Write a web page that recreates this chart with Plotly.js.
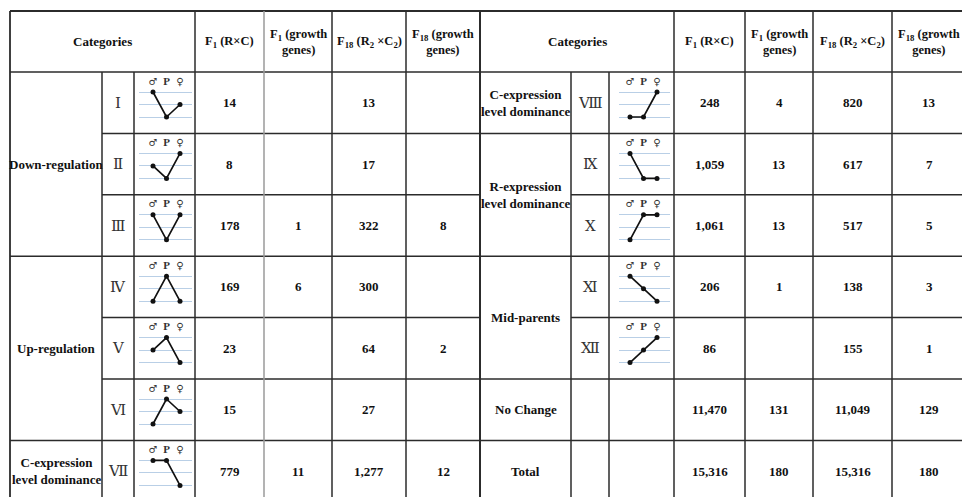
<!DOCTYPE html>
<html>
<head>
<meta charset="utf-8">
<script src="https://cdn.plot.ly/plotly-3.0.1.min.js"></script>
<style>
  html, body { margin: 0; padding: 0; background: #fff; }
  #chart { width: 962px; height: 497px; }
</style>
</head>
<body>
<div id="chart"></div>
<script>
// Expression-pattern classes with gene counts per population
const leftGroups = ["Down-regulation", "Up-regulation", "C-expression<br>level dominance"];
const leftGroupSpan = [3, 3, 1];
const rightGroups = ["C-expression<br>level dominance", "R-expression<br>level dominance", "Mid-parents", "No Change", "Total"];
const rightGroupSpan = [1, 2, 2, 1, 1];
const leftClasses = ["Ⅰ", "Ⅱ", "Ⅲ", "Ⅳ", "Ⅴ", "Ⅵ", "Ⅶ"];
const rightClasses = ["Ⅷ", "Ⅸ", "Ⅹ", "Ⅺ", "Ⅻ", "", ""];
// Relative expression level (0 low, 1 middle, 2 high) for the ♂ parent, the progeny P and the ♀ parent
const leftPatterns = [[2, 0, 1], [1, 0, 2], [2, 0, 2], [0, 2, 0], [1, 2, 0], [0, 2, 1], [2, 2, 0]];
const rightPatterns = [[0, 0, 2], [2, 0, 0], [0, 2, 2], [2, 1, 0], [0, 1, 2], null, null];
const profileLabels = ["♂", "<b>P</b>", "♀"];
const columnHeaders = [
  "F<sub>1</sub> (R×C)",
  "F<sub>1</sub> (growth<br>genes)",
  "F<sub>18</sub> (R<sub>2</sub> ×C<sub>2</sub>)",
  "F<sub>18</sub> (growth<br>genes)"
];
const leftF1 = [14, 8, 178, 169, 23, 15, 779];
const leftF1Growth = [null, null, 1, 6, null, null, 11];
const leftF18 = [13, 17, 322, 300, 64, 27, 1277];
const leftF18Growth = [null, null, 8, null, 2, null, 12];
const rightF1 = [248, 1059, 1061, 206, 86, 11470, 15316];
const rightF1Growth = [4, 13, 13, 1, null, 131, 180];
const rightF18 = [820, 617, 517, 138, 155, 11049, 15316];
const rightF18Growth = [13, 7, 5, 3, 1, 129, 180];

// ---- page geometry (pixels) ----
const W = 962, H = 497;
const TOP = 11, HEAD_BOTTOM = 72, ROW_H = 61.4, N_ROWS = 7, BOTTOM = 505;
const leftCols = [10, 102, 134, 195, 264, 332, 406, 480];
const rightCols = [480, 571, 609, 674, 745, 813, 892, 966];
const px = x => x / W;
const py = y => 1 - y / H;
const rowTop = i => HEAD_BOTTOM + i * ROW_H;

const SERIF = "Liberation Serif, Times New Roman, DejaVu Serif, serif";
const DARK = "#2b2b2b";

const shapes = [];
const annotations = [];

function hline(x0, x1, y, color, width) {
  shapes.push({type: "line", xref: "paper", yref: "paper",
    x0: px(x0), x1: px(x1), y0: py(y), y1: py(y),
    line: {color: color || DARK, width: width || 1.5}});
}
function vline(x, y0, y1, color, width) {
  shapes.push({type: "line", xref: "paper", yref: "paper",
    x0: px(x), x1: px(x), y0: py(y0), y1: py(y1),
    line: {color: color || DARK, width: width || 1.5}});
}
function label(text, x, y, opts) {
  opts = opts || {};
  annotations.push({xref: "paper", yref: "paper", x: px(x), y: py(y),
    xanchor: "center", yanchor: "middle", showarrow: false,
    text: text, align: "center",
    font: {family: opts.family || SERIF, size: opts.size || 13, color: opts.color || "#111"}});
}
const fmt = v => (v === null || v === undefined) ? "" : v.toLocaleString("en-US");

// ---- grid lines and text for one half of the table ----
function buildHalf(cols, groups, spans, classes, valueCols, grayCols) {
  const x0 = cols[0], x1 = cols[cols.length - 1];
  hline(x0, x1, TOP, DARK, 1.8);
  hline(x0, x1, HEAD_BOTTOM);
  // row separators: full width at group boundaries, partial inside merged groups
  let r = 0;
  const groupStarts = new Set();
  spans.forEach(s => { groupStarts.add(r); r += s; });
  for (let i = 1; i < N_ROWS; i++) {
    hline(groupStarts.has(i) ? x0 : cols[1], x1, rowTop(i));
  }
  // vertical lines
  vline(x0, TOP, BOTTOM, DARK, 1.8);
  vline(cols[1], HEAD_BOTTOM, BOTTOM);
  vline(cols[2], HEAD_BOTTOM, BOTTOM);
  for (let k = 3; k < cols.length; k++) {
    vline(cols[k], TOP, BOTTOM, grayCols.includes(k) ? "#9a9a9a" : DARK, k === cols.length - 1 ? 1.8 : 1.5);
  }
  // header
  label("<b>Categories</b>", (cols[0] + cols[3]) / 2, (TOP + HEAD_BOTTOM) / 2);
  columnHeaders.forEach((h, k) => {
    label("<b>" + h + "</b>", (cols[3 + k] + cols[4 + k]) / 2, (TOP + HEAD_BOTTOM) / 2, {size: 12.5});
  });
  // group names
  r = 0;
  groups.forEach((g, gi) => {
    const yc = (rowTop(r) + rowTop(r + spans[gi])) / 2;
    label("<b>" + g + "</b>", (cols[0] + cols[1]) / 2, yc);
    r += spans[gi];
  });
  // class numerals and values
  for (let i = 0; i < N_ROWS; i++) {
    const yc = rowTop(i) + ROW_H / 2;
    if (classes[i]) label(classes[i], (cols[1] + cols[2]) / 2, yc, {size: 15, color: "#333", family: "DejaVu Serif, Liberation Serif, serif"});
    valueCols.forEach((vals, k) => {
      const t = fmt(vals[i]);
      if (t) label("<b>" + t + "</b>", (cols[3 + k] + cols[4 + k]) / 2, yc);
    });
  }
}

buildHalf(leftCols, leftGroups, leftGroupSpan, leftClasses,
  [leftF1, leftF1Growth, leftF18, leftF18Growth], [4]);
buildHalf(rightCols, rightGroups, rightGroupSpan, rightClasses,
  [rightF1, rightF1Growth, rightF18, rightF18Growth], []);

// ---- small profile plots (one pair of axes per class) ----
const traces = [];
const layout = {
  width: W, height: H,
  margin: {l: 0, r: 0, t: 0, b: 0, pad: 0},
  paper_bgcolor: "#fff", plot_bgcolor: "rgba(0,0,0,0)",
  showlegend: false, hovermode: false,
  xaxis: {visible: false, range: [0, 1], domain: [0, 1]},
  yaxis: {visible: false, range: [0, 1], domain: [0, 1]},
  shapes: shapes, annotations: annotations
};

const STEP = 13.5;          // pixel distance between the three profile points
const Y_UNIT = 12.5;        // pixel distance between expression levels
let axisN = 2;
function addProfile(pattern, rowIndex, gx0, gx1, firstPointX) {
  const n = axisN++;
  const xa = "xaxis" + n, ya = "yaxis" + n;
  const t = rowTop(rowIndex);
  const dTop = t + 4, dBot = t + 52;
  const lastPointX = firstPointX + 2 * STEP;
  layout[xa] = {
    domain: [px(gx0), px(gx1)],
    range: [(gx0 - firstPointX) / STEP, 2 + (gx1 - lastPointX) / STEP],
    visible: false, fixedrange: true, anchor: "y" + n
  };
  const lvl0 = t + 45;
  layout[ya] = {
    domain: [py(dBot), py(dTop)],
    range: [-(dBot - lvl0) / Y_UNIT, -(dTop - lvl0) / Y_UNIT],
    tickvals: [0, 1, 2], showticklabels: false, ticks: "",
    showgrid: true, gridcolor: "#b9cfe6", gridwidth: 1,
    zeroline: false, showline: false, fixedrange: true, anchor: "x" + n
  };
  traces.push({
    type: "scatter", mode: "lines+markers", xaxis: "x" + n, yaxis: "y" + n,
    x: [0, 1, 2], y: pattern, cliponaxis: false,
    line: {color: "#111", width: 1.7},
    marker: {color: "#111", size: 5}
  });
  traces.push({
    type: "scatter", mode: "text", xaxis: "x" + n, yaxis: "y" + n,
    x: [0, 1, 2], y: [2.8, 2.82, 2.8], text: profileLabels, cliponaxis: false,
    textposition: "middle center",
    textfont: {
      family: ["DejaVu Sans", SERIF, "DejaVu Sans"],
      size: [10, 11, 10], color: "#333"
    }
  });
}

leftPatterns.forEach((p, i) => { if (p) addProfile(p, i, 139, 192, 153); });
rightPatterns.forEach((p, i) => { if (p) addProfile(p, i, 619, 670, 630); });

Plotly.newPlot("chart", traces, layout, {staticPlot: true, displayModeBar: false});
</script>
</body>
</html>
